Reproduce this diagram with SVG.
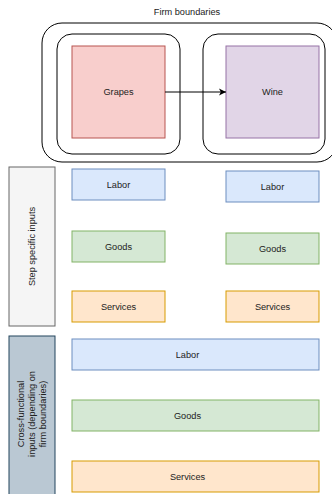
<svg xmlns="http://www.w3.org/2000/svg" width="332" height="494" viewBox="0 0 332 494">
<defs>
<style>
text{font-family:"Liberation Sans",Arial,sans-serif;font-size:9.2px;fill:#222;text-anchor:middle;dominant-baseline:central}
.frame{fill:none;stroke:#000;stroke-width:1}
.red{fill:#f8cecc;stroke:#b85450}
.purple{fill:#e1d5e7;stroke:#9673a6}
.blue{fill:#dae8fc;stroke:#6c8ebf}
.green{fill:#d5e8d4;stroke:#82b366}
.orange{fill:#ffe6cc;stroke:#d79b00}
.grey{fill:#f5f5f5;stroke:#666666}
.slate{fill:#bac8d3;stroke:#23445d}
</style>
<marker id="arr" markerWidth="8" markerHeight="8" refX="7" refY="4" orient="auto" markerUnits="userSpaceOnUse">
<path d="M0,0.5 L7,4 L0,7.5 L1.8,4 Z" fill="#000"/>
</marker>
</defs>
<g id="firm-boundaries">
<rect class="frame" x="42" y="23" width="295" height="139" rx="20"/>
<text x="187" y="12">Firm boundaries</text>
</g>
<g id="firm-left"><rect class="frame" x="57" y="34" width="123" height="120" rx="15"/></g>
<g id="firm-right"><rect class="frame" x="203" y="34" width="122" height="120" rx="15"/></g>
<g id="grapes"><rect class="red" x="72" y="46" width="93" height="92"/><text x="118.5" y="92">Grapes</text></g>
<g id="wine"><rect class="purple" x="226" y="46" width="93" height="92"/><text x="272.5" y="92">Wine</text></g>
<g id="connectors">
<line x1="165" y1="92" x2="226" y2="92" stroke="#000" stroke-width="1" marker-end="url(#arr)"/>
</g>
<g id="step-specific"><rect class="grey" x="9" y="167" width="46" height="159"/><text transform="translate(32,246.5) rotate(-90)">Step specific inputs</text></g>
<g id="labor-left"><rect class="blue" x="72" y="169" width="93" height="31"/><text x="118.5" y="184.5">Labor</text></g>
<g id="labor-right"><rect class="blue" x="226" y="171" width="93" height="31"/><text x="272.5" y="186.5">Labor</text></g>
<g id="goods-left"><rect class="green" x="72" y="231" width="93" height="31"/><text x="118.5" y="246.5">Goods</text></g>
<g id="goods-right"><rect class="green" x="226" y="233" width="93" height="31"/><text x="272.5" y="248.5">Goods</text></g>
<g id="services-left"><rect class="orange" x="72" y="291" width="93" height="31"/><text x="118.5" y="306.5">Services</text></g>
<g id="services-right"><rect class="orange" x="226" y="291" width="93" height="31"/><text x="272.5" y="306.5">Services</text></g>
<g id="cross-functional"><rect class="slate" x="9" y="336" width="46" height="162"/>
<g transform="translate(32,414) rotate(-90)">
<text x="0" y="-11">Cross-functional</text>
<text x="0" y="0">inputs (depending on</text>
<text x="0" y="11">firm boundaries)</text>
</g></g>
<g id="labor-wide"><rect class="blue" x="72" y="339" width="247" height="31"/><text x="187.5" y="354.5">Labor</text></g>
<g id="goods-wide"><rect class="green" x="72" y="400" width="247" height="31"/><text x="187.5" y="415.5">Goods</text></g>
<g id="services-wide"><rect class="orange" x="72" y="461" width="247" height="31"/><text x="187.5" y="476.5">Services</text></g>
</svg>
